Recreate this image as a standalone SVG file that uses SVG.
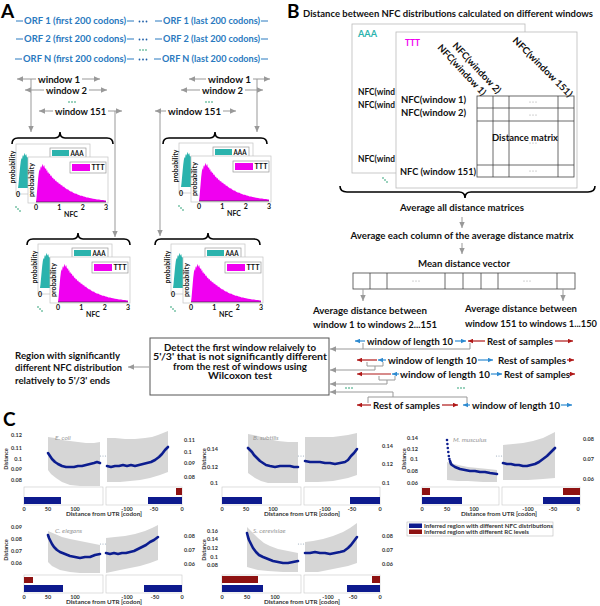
<svg xmlns="http://www.w3.org/2000/svg" width="600" height="606" viewBox="0 0 600 606">
<style>
text{font-family:Lato,'Liberation Sans',Arial,sans-serif;font-weight:bold;fill:#111}
.lbl{font-size:19px;fill:#000}
.orf{font-size:9px;fill:#2a7ac0}
.w{font-size:9.5px}
.h7{font-size:7px}
.b{font-size:9.5px}
.c{font-size:5.5px;fill:#333}
.ct{font-size:6.5px;font-style:italic;font-weight:normal;fill:#999}
.gl{stroke:#999;stroke-width:1;fill:none}
.bl{stroke:#2d8ad0;stroke-width:1.2;fill:none}
.rl{stroke:#b01818;stroke-width:1.2;fill:none}
.od{stroke:#2a7ac0;stroke-width:1;fill:none}
.br{stroke:#000;stroke-width:1.6;fill:none}
.fr{fill:#fff;stroke:#c4c4c4;stroke-width:0.7}
.lg{fill:#fff;stroke:#999;stroke-width:0.7}
.sh{fill:#fff;stroke:#bbb;stroke-width:0.8}
.grid{stroke:#444;stroke-width:0.8;fill:none}
.band{fill:#d6d6d6}
.cur{fill:none;stroke:#0c1d8f;stroke-width:2.6;stroke-linejoin:round;stroke-linecap:round}
.bx{fill:#fff;stroke:#c8c8c8;stroke-width:0.6}
.nb{fill:#0d1a8e}
.nr{fill:#8e1212}
.gd{fill:#1a9a6a}
.dd{fill:#9ab}
</style>
<defs>
<marker id="mg" viewBox="0 0 10 10" refX="10" refY="5" markerWidth="6" markerHeight="6" orient="auto-start-reverse" markerUnits="userSpaceOnUse"><path d="M0,0.5 L10,5 L0,9.5 z" fill="#999"/></marker>
<marker id="mb" viewBox="0 0 10 10" refX="10" refY="5" markerWidth="5" markerHeight="5" orient="auto-start-reverse" markerUnits="userSpaceOnUse"><path d="M0,0.5 L10,5 L0,9.5 z" fill="#2d8ad0"/></marker>
<marker id="mr" viewBox="0 0 10 10" refX="10" refY="5" markerWidth="5" markerHeight="5" orient="auto-start-reverse" markerUnits="userSpaceOnUse"><path d="M0,0.5 L10,5 L0,9.5 z" fill="#b01818"/></marker>
<path id="hist" d="M0,0 L0.5,-4 L1,-10 L1.6,-17 L2.2,-24 L2.8,-29 L3.4,-33 L4,-31 L4.6,-35 L5.2,-36 L5.8,-34 L6.4,-38 L7,-37 L7.6,-35 L8.2,-37 L8.8,-34 L9.4,-33 L10,-34 L10.6,-31 L11.2,-32 L11.8,-29 L12.4,-30 L13,-28 L13.8,-28.5 L14.6,-26 L15.4,-26.5 L16.2,-24 L17,-24.5 L17.8,-22.5 L18.6,-23 L19.4,-21 L20.2,-21.5 L21,-19.5 L22,-20 L23,-18 L24,-18.5 L25,-16.5 L26,-17 L27,-15 L28,-15.5 L29,-14 L30,-13.5 L31,-12.5 L32,-12.8 L33,-11.5 L34,-11 L35,-10.2 L36,-10.5 L37,-9.2 L38,-9 L39,-8.2 L40,-8.4 L41.5,-7.4 L43,-7 L44.5,-6.3 L46,-6.2 L47.5,-5.4 L49,-5.2 L50.5,-4.6 L52,-4.4 L53.5,-3.9 L55,-3.8 L57,-3.3 L59,-3 L61,-2.6 L63,-2.4 L65,-2.1 L67,-1.9 L69,-1.6 L70,-1.5 L70,0 Z"/>
<g id="hg">
<rect class="fr" x="-20" y="-58" width="74" height="50"/>
<text class="h7" transform="translate(-21,-35) rotate(-90)" text-anchor="middle" textLength="33" lengthAdjust="spacingAndGlyphs">probability</text>
<use href="#hist" transform="translate(-18,-14) scale(1,0.92)" fill="#2bb3ad"/>
<text class="h7" x="-18" y="-5.5" text-anchor="middle">0</text>
<rect class="lg" x="14" y="-54" width="36" height="10"/>
<rect x="16" y="-52" width="17" height="6" fill="#2bb3ad"/>
<text class="h7" x="34.5" y="-46.5" textLength="13" lengthAdjust="spacingAndGlyphs">AAA</text>
<rect class="fr" x="-8" y="-45" width="80" height="46"/>
<text class="h7" transform="translate(-2.5,-22) rotate(-90)" text-anchor="middle" textLength="34" lengthAdjust="spacingAndGlyphs">probability</text>
<use href="#hist" fill="#f000f0"/>
<line x1="0" y1="0" x2="70" y2="0" stroke="#222" stroke-width="0.6"/>
<text class="h7" x="0" y="7.5" text-anchor="middle">0</text>
<text class="h7" x="23.3" y="7.5" text-anchor="middle">1</text>
<text class="h7" x="46.7" y="7.5" text-anchor="middle">2</text>
<text class="h7" x="70" y="7.5" text-anchor="middle">3</text>
<text class="h7" x="35" y="14.5" text-anchor="middle">NFC</text>
<rect class="lg" x="34" y="-40" width="36" height="11"/>
<rect x="36" y="-38" width="18" height="7" fill="#f000f0"/>
<text class="h7" x="55.5" y="-32" textLength="13" lengthAdjust="spacingAndGlyphs">TTT</text>
<circle class="gd" cx="-20" cy="5" r="0.8"/><circle class="gd" cx="-18" cy="7" r="0.8"/><circle class="gd" cx="-16" cy="9" r="0.8"/>
</g>
</defs>
<rect width="600" height="606" fill="#fff"/>

<!-- Panel A -->
<g id="panel-a-label"><text class="lbl" x="1" y="18">A</text></g>
<g id="orf-rows">
<path class="od" d="M16,21 H23 M127,21 H134 M155,21 H162 M261,21 H268 M16,39 H23 M127,39 H134 M155,39 H162 M261,39 H268 M15,59 H22 M127,59 H134 M154,59 H161 M261,59 H268"/>
<text class="orf" x="24" y="24" textLength="102" lengthAdjust="spacingAndGlyphs">ORF 1 (first 200 codons)</text>
<text class="orf" x="163" y="24" textLength="97" lengthAdjust="spacingAndGlyphs">ORF 1 (last 200 codons)</text>
<text class="orf" x="24" y="42" textLength="102" lengthAdjust="spacingAndGlyphs">ORF 2 (first 200 codons)</text>
<text class="orf" x="163" y="42" textLength="97" lengthAdjust="spacingAndGlyphs">ORF 2 (last 200 codons)</text>
<text class="orf" x="23" y="62" textLength="103" lengthAdjust="spacingAndGlyphs">ORF N (first 200 codons)</text>
<text class="orf" x="162" y="62" textLength="98" lengthAdjust="spacingAndGlyphs">ORF N (last 200 codons)</text>
<g fill="#1f5fa8"><circle cx="139.5" cy="21.5" r="0.9"/><circle cx="143" cy="21.5" r="0.9"/><circle cx="146.5" cy="21.5" r="0.9"/><circle cx="139.5" cy="39.5" r="0.9"/><circle cx="143" cy="39.5" r="0.9"/><circle cx="146.5" cy="39.5" r="0.9"/><circle cx="139.5" cy="59.5" r="0.9"/><circle cx="143" cy="59.5" r="0.9"/><circle cx="146.5" cy="59.5" r="0.9"/></g>
<circle class="gd" cx="140" cy="50" r="0.8"/><circle class="gd" cx="143" cy="50" r="0.8"/><circle class="gd" cx="146" cy="50" r="0.8"/>
</g>
<g id="windows-left">
<text class="w" x="38" y="82.5" textLength="42" lengthAdjust="spacingAndGlyphs">window 1</text>
<text class="w" x="46" y="93.5" textLength="41" lengthAdjust="spacingAndGlyphs">window 2</text>
<text class="w" x="55" y="114.5" textLength="51" lengthAdjust="spacingAndGlyphs">window 151</text>
<circle class="gd" cx="69" cy="102" r="0.8"/><circle class="gd" cx="72" cy="102" r="0.8"/><circle class="gd" cx="75" cy="102" r="0.8"/>
</g>
<g id="windows-right">
<text class="w" x="208" y="82.5" textLength="43" lengthAdjust="spacingAndGlyphs">window 1</text>
<text class="w" x="202" y="93.5" textLength="41" lengthAdjust="spacingAndGlyphs">window 2</text>
<text class="w" x="168" y="114.5" textLength="53" lengthAdjust="spacingAndGlyphs">window 151</text>
<circle class="gd" cx="206" cy="102" r="0.8"/><circle class="gd" cx="209" cy="102" r="0.8"/><circle class="gd" cx="212" cy="102" r="0.8"/>
</g>
<g id="connectors-a">
<path class="gl" d="M17,79 H36" marker-start="url(#mg)"/>
<path class="gl" d="M82,79 H100" marker-end="url(#mg)"/>
<path class="gl" d="M25,90 H44" marker-start="url(#mg)"/>
<path class="gl" d="M89,90 H107" marker-end="url(#mg)"/>
<path class="gl" d="M39,111 H53" marker-start="url(#mg)"/>
<path class="gl" d="M108,111 H122" marker-end="url(#mg)"/>
<path class="gl" d="M189,79 H206" marker-start="url(#mg)"/>
<path class="gl" d="M253,79 H270" marker-end="url(#mg)"/>
<path class="gl" d="M181,90 H200" marker-start="url(#mg)"/>
<path class="gl" d="M245,90 H263" marker-end="url(#mg)"/>
<path class="gl" d="M155,111 H166" marker-start="url(#mg)"/>
<path class="gl" d="M223,111 H236" marker-end="url(#mg)"/>
<path class="gl" d="M31,79 V132" marker-end="url(#mg)"/>
<path class="gl" d="M115,111 V237" marker-end="url(#mg)"/>
<path class="gl" d="M257,79 V132" marker-end="url(#mg)"/>
<path class="gl" d="M160,111 V236" marker-end="url(#mg)"/>
<path class="br" d="M12,144 Q12,138 18,138 L55,138 Q60,138 60,132 Q60,138 65,138 L107,138 Q113,138 113,144"/>
<path class="br" d="M163,144 Q163,138 169,138 L210,138 Q215,138 215,132 Q215,138 220,138 L261,138 Q267,138 267,144"/>
<path class="br" d="M27,245 Q27,239 33,239 L73,239 Q78,239 78,233 Q78,239 83,239 L124,239 Q130,239 130,245"/>
<path class="br" d="M155,245 Q155,239 161,239 L203,239 Q208,239 208,233 Q208,239 213,239 L254,239 Q260,239 260,245"/>
</g>
<g id="hist-left-1" transform="translate(36,202)"><use href="#hg"/></g>
<g id="hist-right-1" transform="translate(199,201)"><use href="#hg"/></g>
<g id="hist-left-151" transform="translate(58,302)"><use href="#hg"/></g>
<g id="hist-right-151" transform="translate(191,302)"><use href="#hg"/></g>

<!-- Panel B -->
<g id="panel-b-label"><text class="lbl" x="287" y="18">B</text></g>
<g id="b-title"><text class="b" x="303" y="16.5" textLength="290" lengthAdjust="spacingAndGlyphs">Distance between NFC distributions calculated on different windows</text></g>
<g id="sheet-aaa">
<rect class="sh" x="352" y="24" width="173" height="149"/>
<text x="358" y="36.5" style="font-size:9px;fill:#2bb3ad" textLength="19" lengthAdjust="spacingAndGlyphs">AAA</text>
<text class="b" x="358" y="94.5" textLength="37" lengthAdjust="spacingAndGlyphs">NFC(wind</text>
<text class="b" x="358" y="107.5" textLength="37" lengthAdjust="spacingAndGlyphs">NFC(wind</text>
<text class="b" x="358" y="161.5" textLength="37" lengthAdjust="spacingAndGlyphs">NFC(wind</text>
<circle class="gd" cx="383" cy="178" r="0.8"/><circle class="gd" cx="385" cy="180" r="0.8"/><circle class="gd" cx="387" cy="182" r="0.8"/>
</g>
<g id="sheet-ttt">
<rect class="sh" x="396" y="32" width="181" height="156"/>
<text x="405" y="45.5" style="font-size:9px;fill:#f000f0" textLength="15" lengthAdjust="spacingAndGlyphs">TTT</text>
<text class="b" transform="translate(437,48) rotate(47)" textLength="66" lengthAdjust="spacingAndGlyphs">NFC(window 1)</text>
<text class="b" transform="translate(452,46) rotate(47)" textLength="66" lengthAdjust="spacingAndGlyphs">NFC(window 2)</text>
<text class="b" transform="translate(512,41) rotate(45)" textLength="80" lengthAdjust="spacingAndGlyphs">NFC(window 151)</text>
<text class="b" x="401" y="102.5" textLength="65" lengthAdjust="spacingAndGlyphs">NFC(window 1)</text>
<text class="b" x="401" y="115.5" textLength="65" lengthAdjust="spacingAndGlyphs">NFC(window 2)</text>
<text class="b" x="400" y="174.5" textLength="76" lengthAdjust="spacingAndGlyphs">NFC (window 151)</text>
</g>
<g id="distance-matrix">
<rect class="grid" x="477" y="96" width="97" height="81"/>
<path class="grid" d="M493,96 V177 M509,96 V177 M558,96 V177 M477,108 H574 M477,121 H574 M477,165 H574"/>
<g fill="#888"><circle cx="530" cy="102" r="0.5"/><circle cx="533" cy="102" r="0.5"/><circle cx="536" cy="102" r="0.5"/><circle cx="530" cy="115" r="0.5"/><circle cx="533" cy="115" r="0.5"/><circle cx="536" cy="115" r="0.5"/><circle cx="530" cy="143" r="0.5"/><circle cx="533" cy="143" r="0.5"/><circle cx="536" cy="143" r="0.5"/><circle cx="530" cy="171" r="0.5"/><circle cx="533" cy="171" r="0.5"/><circle cx="536" cy="171" r="0.5"/></g>
<text class="b" x="492" y="140.5" textLength="66" lengthAdjust="spacingAndGlyphs">Distance matrix</text>
</g>
<g id="b-brace"><path class="br" d="M340,186 Q340,192 347,192 L459,192 Q465,192 465,198 Q465,192 471,192 L588,192 Q595,192 595,186"/></g>
<g id="avg-all"><text class="b" x="462" y="210.5" text-anchor="middle" textLength="124" lengthAdjust="spacingAndGlyphs">Average all distance matrices</text></g>
<g id="avg-col"><text class="b" x="462" y="238.5" text-anchor="middle" textLength="223" lengthAdjust="spacingAndGlyphs">Average each column of the average distance matrix</text></g>
<g id="mean-vector">
<text class="b" x="464" y="266.5" text-anchor="middle" textLength="92" lengthAdjust="spacingAndGlyphs">Mean distance vector</text>
<rect class="grid" x="353" y="273" width="222" height="16" stroke="#555"/>
<path class="grid" d="M370,273 V289 M387,273 V289 M445,273 V289 M463,273 V289 M481,273 V289 M498,273 V289 M557,273 V289"/>
<g fill="#888"><circle cx="413" cy="281" r="0.5"/><circle cx="416" cy="281" r="0.5"/><circle cx="419" cy="281" r="0.5"/><circle cx="524" cy="281" r="0.5"/><circle cx="527" cy="281" r="0.5"/><circle cx="530" cy="281" r="0.5"/></g>
</g>
<g id="avg-w1">
<text class="b" x="313" y="313.5" textLength="114" lengthAdjust="spacingAndGlyphs">Average distance between</text>
<text class="b" x="313" y="327.5" textLength="124" lengthAdjust="spacingAndGlyphs">window 1 to windows 2...151</text>
</g>
<g id="avg-w151">
<text class="b" x="465" y="311.5" textLength="112" lengthAdjust="spacingAndGlyphs">Average distance between</text>
<text class="b" x="465" y="326.5" textLength="132" lengthAdjust="spacingAndGlyphs">window 151 to windows 1...150</text>
</g>
<g id="test-row-1">
<path class="bl" d="M355,341 H365" marker-start="url(#mb)"/>
<text class="b" x="367" y="344.5" textLength="86" lengthAdjust="spacingAndGlyphs">window of length 10</text>
<path class="bl" d="M455,341 H466" marker-end="url(#mb)"/>
<path class="rl" d="M468,341 H485" marker-start="url(#mr)"/>
<text class="b" x="487" y="344.5" textLength="66" lengthAdjust="spacingAndGlyphs">Rest of samples</text>
<path class="rl" d="M555,341 H573" marker-end="url(#mr)"/>
</g>
<g id="test-row-2">
<path class="rl" d="M357,360 H377" marker-start="url(#mr)"/>
<path class="bl" d="M378,360 H386" marker-start="url(#mb)"/>
<text class="b" x="388" y="363.5" textLength="89" lengthAdjust="spacingAndGlyphs">window of length 10</text>
<path class="bl" d="M478,360 H493" marker-end="url(#mb)"/>
<text class="b" x="498" y="363.5" textLength="68" lengthAdjust="spacingAndGlyphs">Rest of samples</text>
<path class="rl" d="M567,360 H574" marker-end="url(#mr)"/>
</g>
<g id="test-row-3">
<path class="rl" d="M357,374 H391" marker-start="url(#mr)"/>
<path class="bl" d="M392,374 H399" marker-start="url(#mb)"/>
<text class="b" x="400" y="377.5" textLength="90" lengthAdjust="spacingAndGlyphs">window of length 10</text>
<path class="bl" d="M491,374 H502" marker-end="url(#mb)"/>
<text class="b" x="504" y="377.5" textLength="66" lengthAdjust="spacingAndGlyphs">Rest of samples</text>
<path class="rl" d="M569,374 H575" marker-end="url(#mr)"/>
</g>
<g id="dots-rows">
<circle class="gd" cx="346" cy="388" r="0.8"/><circle class="gd" cx="349" cy="388" r="0.8"/><circle class="gd" cx="352" cy="388" r="0.8"/>
<circle class="gd" cx="458" cy="388" r="0.8"/><circle class="gd" cx="461" cy="388" r="0.8"/><circle class="gd" cx="464" cy="388" r="0.8"/>
</g>
<g id="test-row-151">
<path class="rl" d="M357,405 H371" marker-start="url(#mr)"/>
<text class="b" x="373" y="408.5" textLength="67" lengthAdjust="spacingAndGlyphs">Rest of samples</text>
<path class="rl" d="M442,405 H458" marker-end="url(#mr)"/>
<path class="bl" d="M463,405 H470" marker-start="url(#mb)"/>
<text class="b" x="472" y="408.5" textLength="88" lengthAdjust="spacingAndGlyphs">window of length 10</text>
<path class="bl" d="M561,405 H572" marker-end="url(#mb)"/>
</g>
<g id="connectors-b">
<path class="gl" d="M462,217 V228" marker-end="url(#mg)"/>
<path class="gl" d="M462,243 V254" marker-end="url(#mg)"/>
<path class="gl" d="M363,289 V301" marker-end="url(#mg)"/>
<path class="gl" d="M563,289 V301" marker-end="url(#mg)"/>
<path class="gl" d="M363,343 V349 M470,343 V349 H330" marker-end="url(#mg)"/>
<path class="gl" d="M367,362 V366 H383 V362 M375,366 V370 H330" marker-end="url(#mg)"/>
<path class="gl" d="M379,376 V380 H395 V376 M387,380 V384 H330" marker-end="url(#mg)"/>
<path class="gl" d="M368,403 V397 H467 V403 M393,397 V392 H330" marker-end="url(#mg)"/>
<path class="gl" d="M149,367 H128" marker-end="url(#mg)"/>
</g>
<g id="detect-box">
<rect x="150" y="338" width="179" height="57" fill="#fff" stroke="#555" stroke-width="1"/>
<text class="b" x="240" y="350.5" text-anchor="middle" textLength="152" lengthAdjust="spacingAndGlyphs">Detect the first window relaively to</text>
<text class="b" x="240" y="360" text-anchor="middle" textLength="174" lengthAdjust="spacingAndGlyphs">5'/3' that is not significantly different</text>
<text class="b" x="240" y="369.5" text-anchor="middle" textLength="134" lengthAdjust="spacingAndGlyphs">from the rest of windows using</text>
<text class="b" x="240" y="379" text-anchor="middle" textLength="64" lengthAdjust="spacingAndGlyphs">Wilcoxon test</text>
</g>
<g id="region-text">
<text class="b" x="15" y="358.5" textLength="105" lengthAdjust="spacingAndGlyphs">Region with significantly</text>
<text class="b" x="15" y="370.5" textLength="107" lengthAdjust="spacingAndGlyphs">different NFC distribution</text>
<text class="b" x="15" y="383.5" textLength="95" lengthAdjust="spacingAndGlyphs">relatively to 5'/3' ends</text>
</g>

<!-- Panel C -->
<g id="panel-c-label"><text class="lbl" x="3" y="426">C</text></g>

<g id="c-ecoli">
<text class="c" transform="translate(8,459) rotate(-90)" text-anchor="middle">Distance</text>
<g text-anchor="end"><text class="c" x="22" y="436.5">0.12</text><text class="c" x="22" y="449.5">0.11</text><text class="c" x="22" y="460.5">0.1</text><text class="c" x="22" y="470.5">0.09</text><text class="c" x="22" y="481.5">0.08</text></g>
<text class="c" x="184" y="441.5">0.11</text><text class="c" x="184" y="453.5">0.1</text><text class="c" x="184" y="464.5">0.09</text><text class="c" x="184" y="478.5">0.08</text>
<polygon class="band" points="48,437 55,438 62,440 70,441 78,442 86,443 94,443 100,442 100,486 90,486 80,486 70,485 62,482 56,478 51,474 48,470"/>
<polyline class="cur" points="48,453 50,456 52,459 55,462 58,464 62,466 66,467 70,467 74,467 78,466 82,466 86,465 90,464 94,463 97,462 100,463"/>
<polygon class="band" points="107,438 115,438 125,439 135,439 145,438 152,437 158,435 163,433 168,431 168,472 160,475 150,478 140,480 130,481 120,482 107,482"/>
<polyline class="cur" points="107,466 111,467 115,466 119,466 123,465 127,466 131,465 135,466 139,465 143,464 147,463 151,462 155,460 159,457 162,454 165,450 168,447"/>
<circle class="dd" cx="100.5" cy="456" r="0.6"/><circle class="dd" cx="103" cy="456" r="0.6"/><circle class="dd" cx="105.5" cy="456" r="0.6"/>
<text class="ct" x="55" y="440">E. coli</text>
<rect class="bx" x="24" y="487" width="79" height="18"/><rect class="bx" x="106" y="487" width="76" height="18"/>
<rect class="nr" x="176" y="488" width="6" height="7"/>
<rect class="nb" x="24" y="497" width="37" height="7"/><rect class="nb" x="148" y="497" width="34" height="7"/>
<g text-anchor="middle"><text class="c" x="24" y="510.5">0</text><text class="c" x="48" y="510.5">50</text><text class="c" x="75" y="510.5">100</text><text class="c" x="127" y="510.5">-100</text><text class="c" x="154" y="510.5">-50</text><text class="c" x="182" y="510.5">0</text>
<text class="c" x="104" y="516" textLength="76" lengthAdjust="spacingAndGlyphs">Distance from UTR [codon]</text></g>
</g>

<g id="c-bsubtilis" transform="translate(198,0)">
<text class="c" transform="translate(8,459) rotate(-90)" text-anchor="middle">Distance</text>
<g text-anchor="end"><text class="c" x="20" y="450.5">0.14</text><text class="c" x="20" y="468.5">0.12</text><text class="c" x="20" y="484.5">0.1</text></g>
<text class="c" x="184" y="447.5">0.14</text><text class="c" x="184" y="465.5">0.12</text><text class="c" x="184" y="484.5">0.1</text>
<polygon class="band" points="50,434 60,436 70,439 80,441 90,442 100,442 100,483 85,483 70,483 63,481 57,478 50,473"/>
<polyline class="cur" points="50,448 52,450 54,452 56,455 58,457 60,459 62,461 65,463 68,465 72,466 77,467 82,466 87,466 92,466 96,467 100,467"/>
<polygon class="band" points="107,437 120,437 135,437 150,435 159,433 159,475 150,478 135,481 120,482 107,482"/>
<polyline class="cur" points="107,461 112,462 117,462 122,462 127,463 132,463 137,464 142,463 147,462 150,460 153,456 156,453 159,449"/>
<circle class="dd" cx="100.5" cy="456" r="0.6"/><circle class="dd" cx="103" cy="456" r="0.6"/><circle class="dd" cx="105.5" cy="456" r="0.6"/>
<text class="ct" x="55" y="440">B. subtilis</text>
<rect class="bx" x="24" y="487" width="79" height="18"/><rect class="bx" x="106" y="487" width="76" height="18"/>
<rect class="nb" x="24" y="497" width="40" height="7"/><rect class="nb" x="152" y="497" width="30" height="7"/>
<g text-anchor="middle"><text class="c" x="24" y="510.5">0</text><text class="c" x="48" y="510.5">50</text><text class="c" x="75" y="510.5">100</text><text class="c" x="127" y="510.5">-100</text><text class="c" x="154" y="510.5">-50</text><text class="c" x="182" y="510.5">0</text>
<text class="c" x="104" y="516" textLength="76" lengthAdjust="spacingAndGlyphs">Distance from UTR [codon]</text></g>
</g>

<g id="c-mmusculus" transform="translate(398,0)">
<text class="c" transform="translate(8,459) rotate(-90)" text-anchor="middle">Distance</text>
<g text-anchor="end"><text class="c" x="20" y="439.5">0.14</text><text class="c" x="20" y="450.5">0.12</text><text class="c" x="20" y="460.5">0.1</text><text class="c" x="20" y="472.5">0.08</text><text class="c" x="20" y="484.5">0.06</text></g>
<text class="c" x="185" y="440.5">0.08</text><text class="c" x="185" y="460.5">0.07</text><text class="c" x="185" y="480.5">0.06</text>
<polygon class="band" points="49,462 60,465 70,467 80,468 90,469 99,470 99,482 85,482 70,481 60,481 49,480"/>
<polyline class="cur" points="52,461 53,464 54,465 57,467 62,469 67,470 72,471 77,471 82,472 87,472 92,473 99,474"/>
<g fill="#0c1d8f"><circle cx="49" cy="440" r="1.3"/><circle cx="49.4" cy="444" r="1.3"/><circle cx="49.8" cy="448" r="1.3"/><circle cx="50.3" cy="452" r="1.3"/><circle cx="50.8" cy="456" r="1.3"/><circle cx="51.4" cy="459" r="1.3"/></g>
<polygon class="band" points="105,445 115,444 125,443 135,441 145,438 151,435 157,432 157,478 145,479 130,480 115,480 105,480"/>
<polyline class="cur" points="105,463 109,464 113,464 117,465 121,465 125,466 129,466 133,465 137,464 141,462 145,459 149,456 152,453 155,450 157,448"/>
<circle class="dd" cx="98.5" cy="456" r="0.6"/><circle class="dd" cx="101" cy="456" r="0.6"/><circle class="dd" cx="103.5" cy="456" r="0.6"/>
<text class="ct" x="55" y="442">M. musculus</text>
<rect class="bx" x="24" y="487" width="77" height="18"/><rect class="bx" x="104" y="487" width="78" height="18"/>
<rect class="nr" x="24" y="488" width="8" height="7"/><rect class="nr" x="165" y="488" width="17" height="7"/>
<rect class="nb" x="24" y="497" width="40" height="7"/><rect class="nb" x="145" y="497" width="37" height="7"/>
<g text-anchor="middle"><text class="c" x="24" y="510.5">0</text><text class="c" x="49" y="510.5">50</text><text class="c" x="76" y="510.5">100</text><text class="c" x="130" y="510.5">-100</text><text class="c" x="155" y="510.5">-50</text><text class="c" x="180" y="510.5">0</text>
<text class="c" x="101" y="516" textLength="76" lengthAdjust="spacingAndGlyphs">Distance from UTR [codon]</text></g>
</g>

<g id="c-celegans" transform="translate(0,88)">
<text class="c" transform="translate(8,462) rotate(-90)" text-anchor="middle">Distance</text>
<g text-anchor="end"><text class="c" x="22" y="440.5">0.09</text><text class="c" x="22" y="452.5">0.08</text><text class="c" x="22" y="464.5">0.07</text><text class="c" x="22" y="476.5">0.06</text></g>
<text class="c" x="184" y="449.5">0.08</text><text class="c" x="184" y="463.5">0.07</text><text class="c" x="184" y="477.5">0.06</text>
<polygon class="band" points="48,443 55,446 62,449 70,451 80,453 90,455 100,457 100,485 90,485 80,485 70,484 60,482 52,478 48,474"/>
<polyline class="cur" points="48,447 49,450 50,452 52,456 54,459 57,462 60,464 65,466 70,468 75,469 80,470 85,469 90,469 95,467 100,466"/>
<polygon class="band" points="106,450 115,449 125,448 135,446 145,443 152,440 158,437 158,472 150,475 140,478 130,480 120,482 106,485"/>
<polyline class="cur" points="106,465 110,466 114,465 118,466 122,465 126,465 130,464 134,463 138,461 142,459 146,457 150,454 154,452 158,449"/>
<circle class="dd" cx="100.5" cy="456" r="0.6"/><circle class="dd" cx="103" cy="456" r="0.6"/><circle class="dd" cx="105.5" cy="456" r="0.6"/>
<text class="ct" x="55" y="445">C. elegans</text>
<rect class="bx" x="24" y="487" width="79" height="18"/><rect class="bx" x="106" y="487" width="76" height="18"/>
<rect class="nr" x="24" y="489" width="9" height="6"/>
<rect class="nb" x="24" y="497" width="39" height="7"/><rect class="nb" x="144" y="497" width="38" height="7"/>
<g text-anchor="middle"><text class="c" x="24" y="510.5">0</text><text class="c" x="48" y="510.5">50</text><text class="c" x="75" y="510.5">100</text><text class="c" x="127" y="510.5">-100</text><text class="c" x="155" y="510.5">-50</text><text class="c" x="182" y="510.5">0</text>
<text class="c" x="104" y="516" textLength="76" lengthAdjust="spacingAndGlyphs">Distance from UTR [codon]</text></g>
</g>

<g id="c-scerevisiae" transform="translate(198,88)">
<text class="c" transform="translate(8,462) rotate(-90)" text-anchor="middle">Distance</text>
<g text-anchor="end"><text class="c" x="20" y="444.5">0.16</text><text class="c" x="20" y="452.5">0.14</text><text class="c" x="20" y="461.5">0.12</text><text class="c" x="20" y="470.5">0.1</text><text class="c" x="20" y="478.5">0.08</text></g>
<text class="c" x="184" y="449.5">0.08</text><text class="c" x="184" y="463.5">0.07</text><text class="c" x="184" y="477.5">0.06</text>
<polygon class="band" points="49,439 55,445 60,450 66,455 72,458 80,461 90,463 100,465 100,484 85,484 70,483 60,482 49,479"/>
<polyline class="cur" points="49,445 50,449 51,452 53,456 55,460 58,464 61,467 65,469 70,471 75,473 80,474 85,475 90,475 95,474 100,473"/>
<polygon class="band" points="107,454 115,453 125,451 135,448 145,444 152,440 159,435 159,475 150,478 140,480 130,482 120,484 107,484"/>
<polyline class="cur" points="107,465 112,465 117,464 122,465 127,465 132,466 137,465 142,464 146,463 150,460 153,457 156,453 159,449"/>
<circle class="dd" cx="100.5" cy="456" r="0.6"/><circle class="dd" cx="103" cy="456" r="0.6"/><circle class="dd" cx="105.5" cy="456" r="0.6"/>
<text class="ct" x="55" y="445">S. cerevisiae</text>
<rect class="bx" x="24" y="487" width="79" height="18"/><rect class="bx" x="106" y="487" width="76" height="18"/>
<rect class="nr" x="24" y="488" width="36" height="7"/><rect class="nr" x="174" y="488" width="8" height="7"/>
<rect class="nb" x="24" y="497" width="41" height="7"/><rect class="nb" x="149" y="497" width="33" height="7"/>
<g text-anchor="middle"><text class="c" x="24" y="510.5">0</text><text class="c" x="49" y="510.5">50</text><text class="c" x="77" y="510.5">100</text><text class="c" x="130" y="510.5">-100</text><text class="c" x="155" y="510.5">-50</text><text class="c" x="182" y="510.5">0</text>
<text class="c" x="104" y="516" textLength="76" lengthAdjust="spacingAndGlyphs">Distance from UTR [codon]</text></g>
</g>

<g id="c-legend">
<rect x="407" y="522" width="146" height="14" fill="#fff" stroke="#bbb" stroke-width="0.6"/>
<rect class="nb" x="409" y="523.5" width="13" height="4.5"/>
<text class="c" x="424" y="527.8" textLength="129" lengthAdjust="spacingAndGlyphs">Inferred region with different NFC distributions</text>
<rect class="nr" x="409" y="529.5" width="13" height="4.5"/>
<text class="c" x="424" y="533.8" textLength="105" lengthAdjust="spacingAndGlyphs">Inferred region with different RC levels</text>
</g>
</svg>
